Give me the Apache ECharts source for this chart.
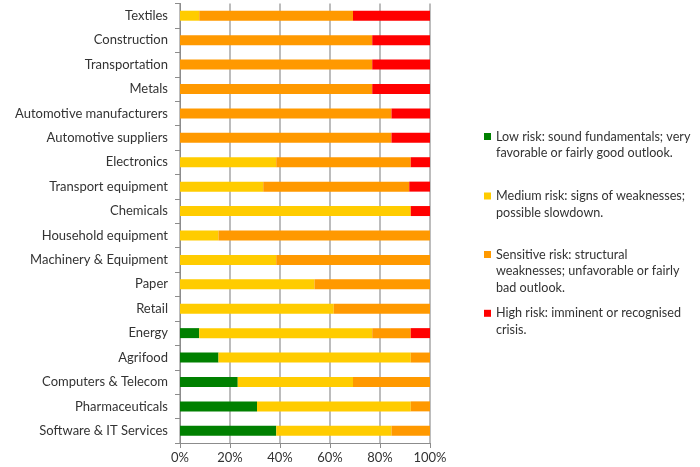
<!DOCTYPE html>
<html>
<head>
<meta charset="utf-8">
<script src="https://cdn.jsdelivr.net/npm/echarts@6/dist/echarts.min.js"></script>
<style>html,body{margin:0;padding:0;background:#fff}#c{width:700px;height:467px}</style>
</head>
<body>
<div id="c"></div>
<script>
const categories = ["Textiles","Construction","Transportation","Metals","Automotive manufacturers","Automotive suppliers","Electronics","Transport equipment","Chemicals","Household equipment","Machinery & Equipment","Paper","Retail","Energy","Agrifood","Computers & Telecom","Pharmaceuticals","Software & IT Services"];
const lowRisk =       [0,0,0,0,0,0,0,0,0,0,0,0,0,7.7,15.4,23.1,30.8,38.5];
const mediumRisk =    [7.7,0,0,0,0,0,38.5,33.3,92.3,15.4,38.5,53.8,61.5,69.2,76.9,46.1,61.5,46.1];
const sensitiveRisk = [61.5,76.9,76.9,76.9,84.6,84.6,53.8,58.4,0,84.6,61.5,46.2,38.5,15.4,7.7,30.8,7.7,15.4];
const highRisk =      [30.8,23.1,23.1,23.1,15.4,15.4,7.7,8.3,7.7,0,0,0,0,7.7,0,0,0,0];
const seriesNames = ["Low risk","Medium risk","Sensitive risk","High risk"];
const legendLabels = [
  "Low risk: sound fundamentals; very\nfavorable or fairly good outlook.",
  "Medium risk: signs of weaknesses;\npossible slowdown.",
  "Sensitive risk: structural\nweaknesses; unfavorable or fairly\nbad outlook.",
  "High risk: imminent or recognised\ncrisis."
];
const xTicks = [0,20,40,60,80,100];

const colors = ["#008000","#ffcc00","#ff9900","#ff0000"];
const values = [lowRisk, mediumRisk, sensitiveRisk, highRisk];
const FONT = "Lato";
const LH = 16.5;
const markerCenters = [136.5, 196, 254.5, 313.3];

const legends = seriesNames.map((n, i) => {
  const lines = legendLabels[i].split("\n").length;
  const total = 2 * lines - 1;
  const padded = " \n".repeat(lines - 1) + legendLabels[i];
  return {
    data: [n],
    orient: 'vertical',
    left: 484,
    top: markerCenters[i] - total * LH / 2,
    padding: 0,
    icon: 'rect',
    itemWidth: 7,
    itemHeight: 7,
    selectedMode: false,
    formatter: () => padded,
    textStyle: {fontFamily: FONT, fontSize: 12.6, color: '#333', lineHeight: LH}
  };
});

const chart = echarts.init(document.getElementById('c'), null, {renderer: 'canvas'});
chart.setOption({
  animation: false,
  color: colors,
  legend: legends,
  grid: {left: 180, right: 270, top: 3.5, bottom: 24, containLabel: false},
  xAxis: {
    type: 'value', min: xTicks[0], max: xTicks[xTicks.length - 1], interval: 20,
    axisLabel: {formatter: '{value}%', fontFamily: FONT, fontSize: 13, color: '#333', margin: 8},
    axisLine: {show: true, lineStyle: {color: '#8c8c8c', width: 1}},
    axisTick: {show: true, length: 5, lineStyle: {color: '#8c8c8c'}},
    splitLine: {show: true, lineStyle: {color: '#a6a6a6', width: 1.5}}
  },
  yAxis: {
    type: 'category', inverse: true, data: categories,
    axisLabel: {fontFamily: FONT, fontSize: 13, color: '#333', margin: 12},
    axisLine: {show: true, lineStyle: {color: '#8c8c8c', width: 1}},
    axisTick: {show: true, length: 5, lineStyle: {color: '#8c8c8c'}},
    splitLine: {show: false}
  },
  series: seriesNames.map((n, i) => ({
    name: n, type: 'bar', stack: 'total', data: values[i],
    barWidth: 10,
    itemStyle: {color: colors[i]}
  }))
});
</script>
</body>
</html>
